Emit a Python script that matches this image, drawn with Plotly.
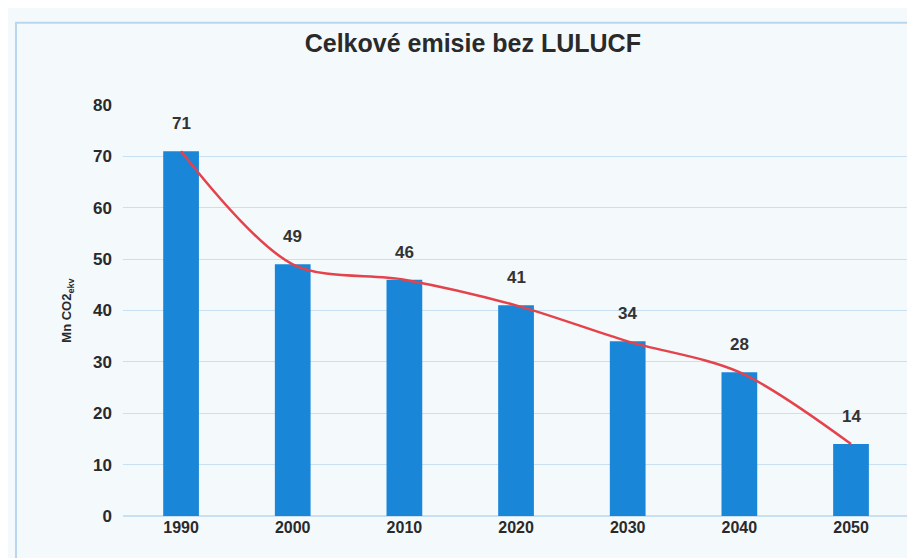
import plotly.graph_objects as go

years = ["1990", "2000", "2010", "2020", "2030", "2040", "2050"]
values = [71, 49, 46, 41, 34, 28, 14]
y_ticks = [0, 10, 20, 30, 40, 50, 60, 70, 80]

bg = "#f4f9fc"
fig = go.Figure()
fig.add_trace(go.Bar(
    x=years, y=values, marker_color="#1a86d8", marker_line_width=0,
    hoverinfo="skip",
))
fig.add_trace(go.Scatter(
    x=years, y=values, mode="lines",
    line=dict(color="#e4434b", width=2.5, shape="spline", smoothing=0.9),
    hoverinfo="skip",
))
for i, v in enumerate(values):
    fig.add_annotation(x=i, y=v, xref="x", yref="y", text="<b>%d</b>" % v, showarrow=False,
                       yanchor="bottom", yshift=16,
                       font=dict(family="Liberation Sans", size=17, color="#333333"))
fig.update_layout(
    width=915, height=558,
    paper_bgcolor=bg, plot_bgcolor=bg,
    margin=dict(l=115, r=10, t=97, b=50),
    showlegend=False, bargap=0.68,
    title=dict(text="<b>Celkové emisie bez LULUCF</b>", x=0.508, xanchor="center",
               y=0.937, yanchor="middle",
               font=dict(family="Liberation Sans", size=25, color="#2a2a2a")),
    font=dict(family="Liberation Sans", color="#2a2a2a"),
)
fig.update_xaxes(
    type="category",
    tickfont=dict(size=16, color="#2a2a2a", family="Liberation Sans"),
    tickprefix="<b>", ticksuffix="</b>", showgrid=False, showline=False,
    range=[-0.52, 6.555],
)
fig.update_yaxes(
    range=[0, 80], tickvals=y_ticks,
    ticktext=["<b>%d</b>" % t for t in y_ticks],
    tickfont=dict(size=17, color="#2a2a2a"),
    showgrid=True, gridcolor="#c8e0f2", gridwidth=1, zeroline=True,
    zerolinecolor="#c8e0f2", ticks="", ticklabelstandoff=10,
    title=dict(text="<b>Mn CO2<sub>ekv</sub></b>", font=dict(size=13, color="#2a2a2a"), standoff=18),
)
fig.add_shape(type="rect", xref="paper", yref="paper", x0=-0.1355, x1=1.03, y0=-0.13, y1=1.2,
              line=dict(color="#b8d6ee", width=2), fillcolor="rgba(0,0,0,0)", layer="below")
fig.write_html("out.html")
